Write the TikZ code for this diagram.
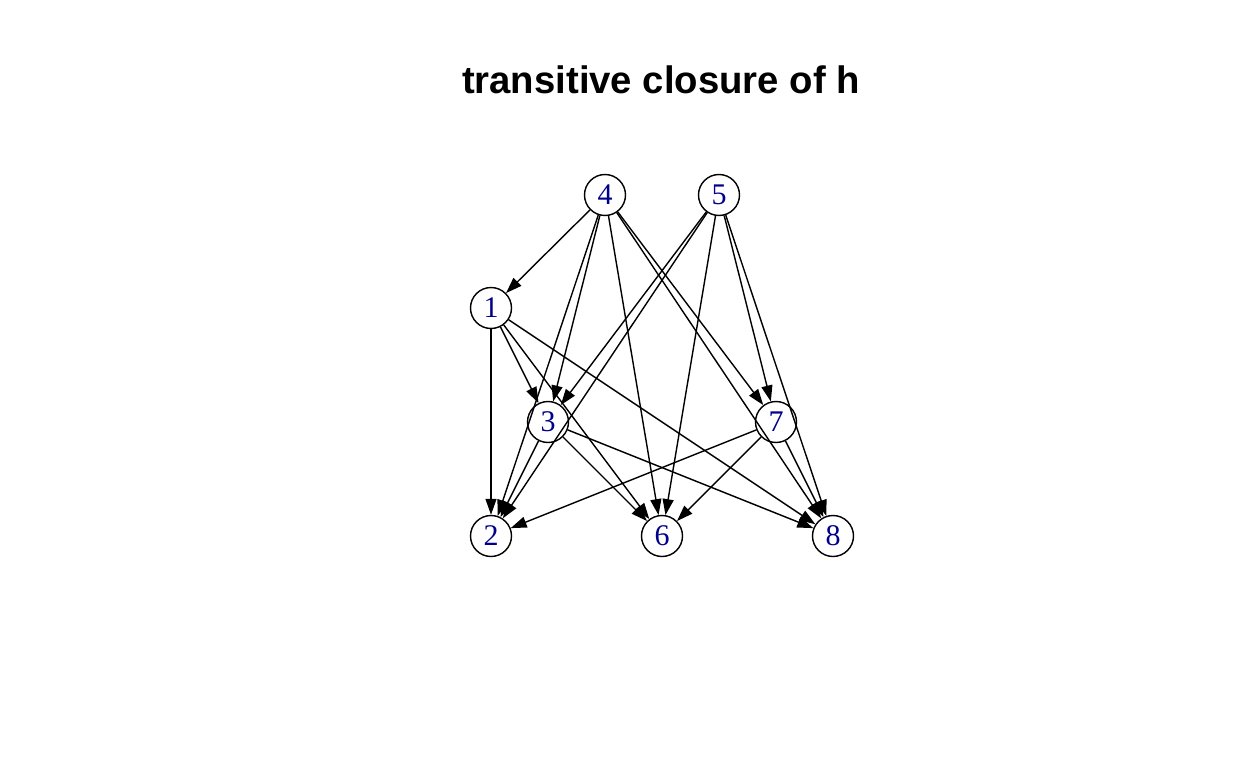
\documentclass[tikz,border=0pt]{standalone}
\usepackage{fontspec}
\setmainfont{Liberation Serif}
\newfontfamily\titlefont{Liberation Sans}
\usetikzlibrary{arrows.meta}
\definecolor{labblue}{RGB}{0,0,139}
\begin{document}
\begin{tikzpicture}[x=1pt,y=-1pt,
  vtx/.style={circle,draw=black,line width=1.4pt,fill=white,minimum size=41pt,inner sep=0pt,
    font=\fontsize{30}{30}\selectfont,text=labblue},
  edge/.style={line width=1.4pt,-{Triangle[length=16pt,width=11pt]}}]
\useasboundingbox (0,0) rectangle (1248,768);
\node[font=\titlefont\bfseries\fontsize{38.3}{40}\selectfont,anchor=base] (title) at (661,93) {transitive closure of h};
\node[vtx] (n4) at (605,195) {4};
\node[vtx] (n5) at (719,195) {5};
\node[vtx] (n1) at (491,308) {1};
\node[vtx] (n3) at (548,422) {3};
\node[vtx] (n7) at (776,422) {7};
\node[vtx] (n2) at (491,536) {2};
\node[vtx] (n6) at (662,536) {6};
\node[vtx] (n8) at (833,536) {8};
\foreach \a/\b in {n4/n1,n4/n3,n4/n2,n4/n6,n4/n7,n4/n8,
  n5/n3,n5/n2,n5/n6,n5/n7,n5/n8,
  n1/n2,n1/n3,n1/n6,n1/n8,
  n3/n2,n3/n6,n3/n8,
  n7/n2,n7/n6,n7/n8}
  \draw[edge] (\a) -- (\b);
\end{tikzpicture}
\end{document}
